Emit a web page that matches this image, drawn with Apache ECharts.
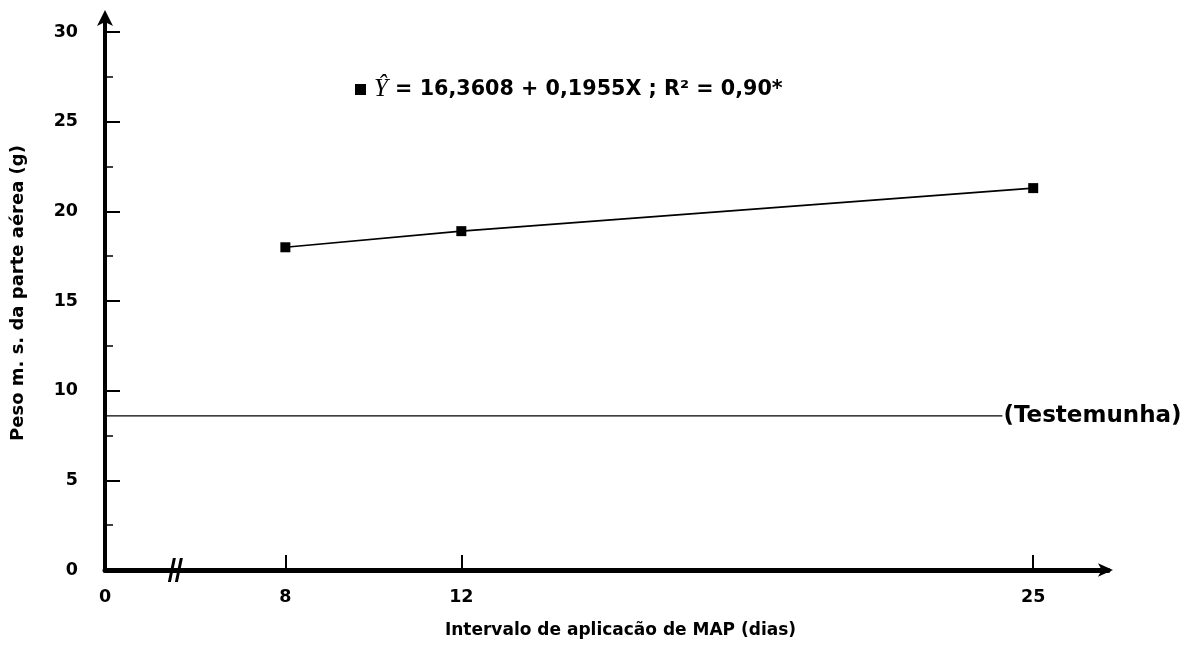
<!DOCTYPE html>
<html>
<head>
<meta charset="utf-8">
<script src="https://cdn.jsdelivr.net/npm/echarts@6/dist/echarts.min.js"></script>
<style>
  html, body { margin: 0; padding: 0; background: #fff; }
  #chart { width: 1198px; height: 647px; }
</style>
</head>
<body>
<div id="chart"></div>
<script>
// Intervalo de aplicação (dias) and dry shoot weight (g)
const intervalDays = [8, 12, 25];
const shootWeight = [18.0, 18.9, 21.3];

// Control treatment (no MAP), drawn as a flat reference line
const controlWeight = 8.6;
const controlEndX = 24.3;

// Broken x axis: the origin sits at X_ORIGIN, labelled "0"
const X_ORIGIN = 3.9;
const X_END = 26.7;
const X_BREAK = 5.5;
const xTickValues = [8, 12, 25];
const xLabelValues = [X_ORIGIN, 8, 12, 25];

// Y axis ticks
const Y_END = 30.9;
const yMajorTicks = [0, 5, 10, 15, 20, 25, 30];
const yMinorTicks = [2.5, 7.5, 12.5, 17.5, 22.5, 27.5];

const FONT = '"DejaVu Sans", "Liberation Sans", Arial, sans-serif';

const chart = echarts.init(document.getElementById('chart'));

chart.setOption({
  backgroundColor: '#ffffff',
  animation: false,
  grid: { left: 105, right: 90, top: 16, bottom: 77 },
  legend: {
    left: 350,
    top: 72,
    data: ['Regressão'],
    icon: 'rect',
    itemWidth: 11,
    itemHeight: 11,
    itemGap: 0,
    selectedMode: false,
    formatter: () => '{i|Ŷ}{t| = 16,3608 + 0,1955X ; R² = 0,90*}',
    textStyle: {
      rich: {
        i: { fontFamily: '"Liberation Serif", "Times New Roman", serif', fontStyle: 'italic', fontSize: 25, color: '#000', padding: [0, 0, 0, 3] },
        t: { fontFamily: FONT, fontWeight: 'bold', fontSize: 20.7, color: '#000' }
      }
    }
  },
  xAxis: {
    type: 'value',
    min: X_ORIGIN,
    max: X_END,
    splitLine: { show: false },
    axisLine: {
      show: true,
      lineStyle: { color: '#000', width: 5 },
      symbol: ['none', 'arrow'],
      symbolSize: [10, 15],
      symbolOffset: [0, 5]
    },
    axisTick: {
      show: true,
      inside: true,
      length: 15,
      customValues: xTickValues,
      lineStyle: { color: '#000', width: 2 }
    },
    axisLabel: {
      customValues: xLabelValues,
      formatter: v => (v === X_ORIGIN ? '0' : String(v)),
      color: '#000',
      fontFamily: FONT,
      fontWeight: 'bold',
      fontSize: 17.5,
      margin: 18
    },
    name: 'Intervalo de aplicacão de MAP (dias)',
    nameLocation: 'middle',
    nameGap: 52,
    nameTextStyle: {
      color: '#000',
      fontFamily: FONT,
      fontWeight: 'bold',
      fontSize: 17,
      padding: [0, 0, 0, 28]
    }
  },
  yAxis: [
    {
      type: 'value',
      min: 0,
      max: Y_END,
      splitLine: { show: false },
      axisLine: {
        show: true,
        lineStyle: { color: '#000', width: 4 },
        symbol: ['none', 'arrow'],
        symbolSize: [12, 16],
        symbolOffset: [0, 6]
      },
      axisTick: {
        show: true,
        inside: true,
        length: 15,
        customValues: yMajorTicks,
        lineStyle: { color: '#000', width: 2 }
      },
      axisLabel: {
        customValues: yMajorTicks,
        color: '#000',
        fontFamily: FONT,
        fontWeight: 'bold',
        fontSize: 17.5,
        margin: 27
      },
      name: 'Peso m. s. da parte aérea (g)',
      nameLocation: 'middle',
      nameRotate: 90,
      nameGap: 78,
      nameTextStyle: {
        color: '#000',
        fontFamily: FONT,
        fontWeight: 'bold',
        fontSize: 18
      }
    },
    {
      type: 'value',
      min: 0,
      max: Y_END,
      position: 'left',
      splitLine: { show: false },
      axisLine: { show: false },
      axisLabel: { show: false },
      axisTick: {
        show: true,
        inside: true,
        length: 8,
        customValues: yMinorTicks,
        lineStyle: { color: '#000', width: 1.5 }
      }
    }
  ],
  series: [
    {
      name: 'Regressão',
      type: 'line',
      data: intervalDays.map((d, i) => [d, shootWeight[i]]),
      symbol: 'rect',
      symbolSize: 10,
      lineStyle: { color: '#000', width: 1.6 },
      itemStyle: { color: '#000' },
      z: 5
    },
    {
      name: 'Testemunha',
      type: 'line',
      data: [[X_ORIGIN, controlWeight], [controlEndX, controlWeight]],
      showSymbol: false,
      symbol: 'none',
      lineStyle: { color: '#000', width: 1.3 },
      endLabel: {
        show: true,
        formatter: '(Testemunha)',
        color: '#000',
        fontFamily: FONT,
        fontWeight: 'bold',
        fontSize: 23,
        distance: 1
      },
      markPoint: {
        silent: true,
        symbol: 'path://M5,0 L8,0 L3,22 L0,22 Z M12,0 L15,0 L10,22 L7,22 Z',
        symbolSize: [15, 24],
        symbolKeepAspect: false,
        itemStyle: { color: '#000' },
        label: { show: false },
        data: [{ coord: [X_BREAK, 0] }]
      }
    }
  ]
});
</script>
</body>
</html>
